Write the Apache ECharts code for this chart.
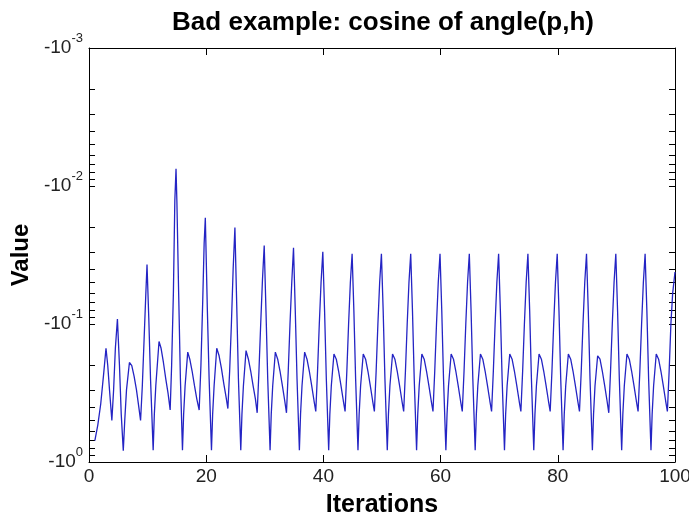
<!DOCTYPE html>
<html>
<head>
<meta charset="utf-8">
<script src="https://cdn.jsdelivr.net/npm/echarts@6/dist/echarts.min.js"></script>
<style>html,body{margin:0;padding:0;background:#fff;}#c{width:689px;height:514px;}</style>
</head>
<body>
<div id="c"></div>
<script>
// Iteration positions (x) and |cosine| magnitudes (plotted as negative values on log axis)
const iterations = [
  1.0, 1.5, 2.0, 2.5, 2.9, 3.2, 3.5, 3.9, 4.2, 4.5, 4.85, 5.2, 5.5, 5.85,
  6.1, 6.4, 6.9, 7.3, 7.7, 8.1, 8.5, 8.8, 9.1, 9.4, 9.7, 9.9, 10.2, 10.5, 10.95,
  11.15, 11.4, 11.95, 12.3, 12.7, 13.1, 13.5, 13.85, 14.1, 14.4, 14.65, 14.85, 15.0, 15.3, 15.6, 15.95,
  16.15, 16.4, 16.85, 17.2, 17.6, 18.0, 18.4, 18.8, 19.1, 19.4, 19.65, 19.85, 20.2, 20.5, 20.9,
  21.1, 21.35, 21.8, 22.2, 22.6, 23.0, 23.4, 23.7, 24.0, 24.3, 24.6, 24.9, 25.2, 25.5, 25.9,
  26.1, 26.35, 26.8, 27.2, 27.6, 28.0, 28.4, 28.7, 29.0, 29.3, 29.6, 29.9, 30.2, 30.5, 30.9,
  31.1, 31.35, 31.8, 32.2, 32.6, 33.0, 33.4, 33.7, 34.0, 34.3, 34.6, 34.9, 35.2, 35.5, 35.9,
  36.1, 36.35, 36.8, 37.2, 37.6, 38.0, 38.4, 38.7, 39.0, 39.3, 39.6, 39.9, 40.2, 40.5, 40.9,
  41.1, 41.35, 41.8, 42.2, 42.6, 43.0, 43.4, 43.7, 44.0, 44.3, 44.6, 44.9, 45.2, 45.5, 45.9,
  46.1, 46.35, 46.8, 47.2, 47.6, 48.0, 48.4, 48.7, 49.0, 49.3, 49.6, 49.9, 50.2, 50.5, 50.9,
  51.1, 51.35, 51.8, 52.2, 52.6, 53.0, 53.4, 53.7, 54.0, 54.3, 54.6, 54.9, 55.2, 55.5, 55.9,
  56.1, 56.35, 56.8, 57.2, 57.6, 58.0, 58.4, 58.7, 59.0, 59.3, 59.6, 59.9, 60.2, 60.5, 60.9,
  61.1, 61.35, 61.8, 62.2, 62.6, 63.0, 63.4, 63.7, 64.0, 64.3, 64.6, 64.9, 65.2, 65.5, 65.9,
  66.1, 66.35, 66.8, 67.2, 67.6, 68.0, 68.4, 68.7, 69.0, 69.3, 69.6, 69.9, 70.2, 70.5, 70.9,
  71.1, 71.35, 71.8, 72.2, 72.6, 73.0, 73.4, 73.7, 74.0, 74.3, 74.6, 74.9, 75.2, 75.5, 75.9,
  76.1, 76.35, 76.8, 77.2, 77.6, 78.0, 78.4, 78.7, 79.0, 79.3, 79.6, 79.9, 80.2, 80.5, 80.9,
  81.1, 81.35, 81.8, 82.2, 82.6, 83.0, 83.4, 83.7, 84.0, 84.3, 84.6, 84.9, 85.2, 85.5, 85.9,
  86.1, 86.35, 86.8, 87.2, 87.6, 88.0, 88.4, 88.7, 89.0, 89.3, 89.6, 89.9, 90.2, 90.5, 90.9,
  91.1, 91.35, 91.8, 92.2, 92.6, 93.0, 93.4, 93.7, 94.0, 94.3, 94.6, 94.9, 95.2, 95.5, 95.9,
  96.1, 96.35, 96.8, 97.2, 97.6, 98.0, 98.4, 98.7, 99.0, 99.3, 99.6, 100.0
];
const magnitudes = [
  0.70, 0.54, 0.38, 0.23, 0.15, 0.20, 0.30, 0.50, 0.30, 0.15, 0.092, 0.20, 0.45, 0.83,
  0.50, 0.30, 0.19, 0.20, 0.24, 0.30, 0.40, 0.50, 0.28, 0.13, 0.06, 0.037, 0.09, 0.25, 0.82,
  0.45, 0.28, 0.134, 0.15, 0.19, 0.25, 0.32, 0.42, 0.20, 0.06, 0.0126, 0.0075, 0.013, 0.06, 0.25, 0.82,
  0.45, 0.28, 0.16, 0.18, 0.22, 0.28, 0.35, 0.42, 0.20, 0.07, 0.026, 0.017, 0.08, 0.25, 0.82,
  0.45, 0.28, 0.15, 0.17, 0.21, 0.27, 0.34, 0.41, 0.22, 0.10, 0.040, 0.020, 0.07, 0.25, 0.82,
  0.45, 0.28, 0.156, 0.18, 0.22, 0.28, 0.35, 0.44, 0.22, 0.10, 0.048, 0.027, 0.08, 0.25, 0.82,
  0.45, 0.28, 0.16, 0.18, 0.22, 0.28, 0.36, 0.44, 0.22, 0.10, 0.050, 0.028, 0.08, 0.25, 0.82,
  0.45, 0.28, 0.16, 0.18, 0.22, 0.28, 0.36, 0.43, 0.22, 0.10, 0.050, 0.030, 0.08, 0.25, 0.82,
  0.45, 0.28, 0.165, 0.18, 0.22, 0.28, 0.36, 0.43, 0.22, 0.10, 0.050, 0.031, 0.08, 0.25, 0.82,
  0.45, 0.28, 0.165, 0.18, 0.22, 0.28, 0.36, 0.43, 0.22, 0.10, 0.050, 0.031, 0.08, 0.25, 0.82,
  0.45, 0.28, 0.165, 0.18, 0.22, 0.28, 0.36, 0.43, 0.22, 0.10, 0.050, 0.031, 0.08, 0.25, 0.82,
  0.45, 0.28, 0.165, 0.18, 0.22, 0.28, 0.36, 0.43, 0.22, 0.10, 0.050, 0.031, 0.08, 0.25, 0.82,
  0.45, 0.28, 0.165, 0.18, 0.22, 0.28, 0.36, 0.43, 0.22, 0.10, 0.050, 0.031, 0.08, 0.25, 0.82,
  0.45, 0.28, 0.165, 0.18, 0.22, 0.28, 0.36, 0.43, 0.22, 0.10, 0.050, 0.031, 0.08, 0.25, 0.82,
  0.45, 0.28, 0.165, 0.18, 0.22, 0.28, 0.36, 0.43, 0.22, 0.10, 0.050, 0.031, 0.08, 0.25, 0.82,
  0.45, 0.28, 0.165, 0.18, 0.22, 0.28, 0.36, 0.43, 0.22, 0.10, 0.050, 0.031, 0.08, 0.25, 0.82,
  0.45, 0.28, 0.165, 0.18, 0.22, 0.28, 0.36, 0.43, 0.22, 0.10, 0.050, 0.031, 0.08, 0.25, 0.82,
  0.45, 0.28, 0.17, 0.18, 0.22, 0.28, 0.36, 0.44, 0.22, 0.10, 0.050, 0.031, 0.08, 0.25, 0.82,
  0.45, 0.28, 0.165, 0.18, 0.22, 0.28, 0.36, 0.43, 0.22, 0.10, 0.050, 0.031, 0.08, 0.25, 0.82,
  0.45, 0.28, 0.165, 0.18, 0.22, 0.28, 0.36, 0.43, 0.22, 0.10, 0.060, 0.042
];
const xTicks = [0, 20, 40, 60, 80, 100];
const yDecades = [0.001, 0.01, 0.1, 1];
const yAllTicks = [0.001,0.002,0.003,0.004,0.005,0.006,0.007,0.008,0.009,
                   0.01,0.02,0.03,0.04,0.05,0.06,0.07,0.08,0.09,
                   0.1,0.2,0.3,0.4,0.5,0.6,0.7,0.8,0.9,1];

const FONT = "'Liberation Sans', Arial, sans-serif";
const seriesData = iterations.map((x, i) => [x, magnitudes[i]]);

function decadeLabel(v) {
  const e = Math.round(Math.log10(v));
  return '{m|-10}{e|' + e + '}';
}

const chart = echarts.init(document.getElementById('c'), null, {renderer: 'canvas'});
const tickStyle = {show: true, inside: true, length: 6, lineStyle: {color: '#000', width: 1}};
chart.setOption({
  backgroundColor: '#ffffff',
  animation: false,
  title: {
    text: 'Bad example: cosine of angle(p,h)',
    left: 383, top: 10, textAlign: 'center', padding: 0,
    textStyle: {fontFamily: FONT, fontSize: 26, fontWeight: 'bold', color: '#000'}
  },
  grid: {left: 89, right: 14, top: 48, bottom: 52, containLabel: false, outerBoundsMode: 'none'},
  xAxis: [{
    type: 'value', min: 0, max: 100, interval: 20, position: 'bottom',
    name: 'Iterations', nameLocation: 'middle', nameGap: 31,
    nameTextStyle: {fontFamily: FONT, fontSize: 25, fontWeight: 'bold', color: '#000'},
    axisLine: {show: true, onZero: false, lineStyle: {color: '#000', width: 1}},
    axisTick: Object.assign({}, tickStyle, {length: 7}),
    axisLabel: {fontFamily: FONT, fontSize: 19, color: '#222', margin: 5, customValues: xTicks},
    splitLine: {show: false}
  }, {
    type: 'value', min: 0, max: 100, interval: 20, position: 'top',
    axisLine: {show: true, onZero: false, lineStyle: {color: '#000', width: 1}},
    axisTick: Object.assign({}, tickStyle, {length: 7}),
    axisLabel: {show: false},
    splitLine: {show: false}
  }],
  yAxis: [{
    type: 'log', logBase: 10, min: 0.001, max: 1, inverse: true, position: 'left',
    name: 'Value', nameLocation: 'middle', nameGap: 53, nameRotate: 90,
    nameTextStyle: {fontFamily: FONT, fontSize: 24, fontWeight: 'bold', color: '#000'},
    axisLine: {show: true, onZero: false, lineStyle: {color: '#000', width: 1}},
    axisTick: Object.assign({}, tickStyle, {customValues: yAllTicks}),
    axisLabel: {
      margin: 6, color: '#222', fontFamily: FONT,
      customValues: yDecades,
      formatter: decadeLabel,
      rich: {
        m: {fontFamily: FONT, fontSize: 19, color: '#222'},
        e: {fontFamily: FONT, fontSize: 13, color: '#222', padding: [0, 0, 20, 0]}
      }
    },
    splitLine: {show: false}
  }, {
    type: 'log', logBase: 10, min: 0.001, max: 1, inverse: true, position: 'right',
    axisLine: {show: true, onZero: false, lineStyle: {color: '#000', width: 1}},
    axisTick: Object.assign({}, tickStyle, {customValues: yAllTicks}),
    axisLabel: {show: false},
    splitLine: {show: false}
  }],
  series: [{
    type: 'line',
    xAxisIndex: 0, yAxisIndex: 0,
    data: seriesData,
    showSymbol: false, symbol: 'none',
    lineStyle: {color: '#2424c4', width: 1.3},
    silent: true
  }]
});
</script>
</body>
</html>
